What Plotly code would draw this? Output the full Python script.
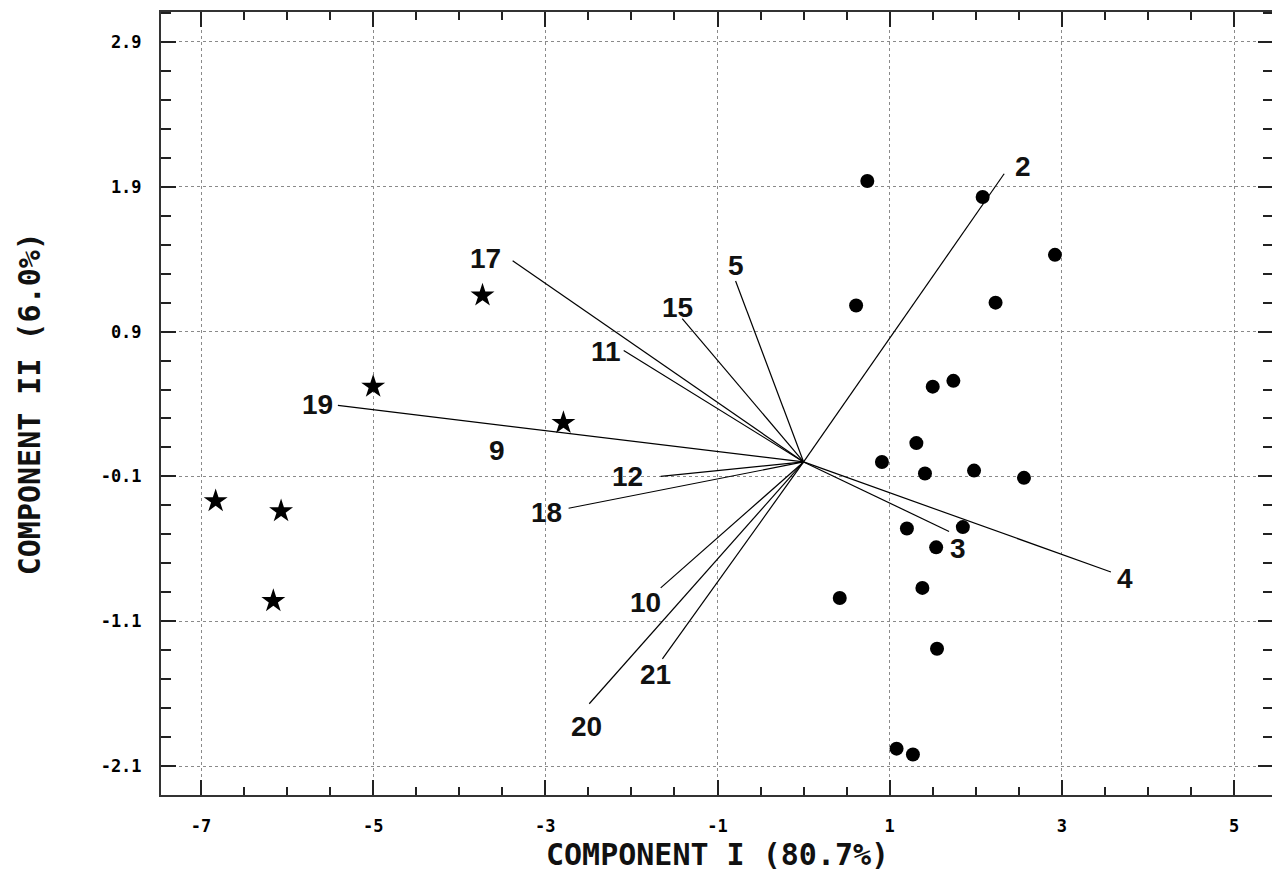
import plotly.graph_objects as go

# ---- data ----
star_x = [-6.83, -6.07, -6.16, -5.00, -3.73, -2.79]
star_y = [-0.27, -0.34, -0.96, 0.52, 1.15, 0.27]

circle_x = [0.74, 2.08, 2.92, 0.61, 2.23, 1.50, 1.74, 1.31, 0.91, 1.41, 1.98, 2.56,
            1.20, 1.85, 1.54, 1.38, 0.42, 1.55, 1.08, 1.27]
circle_y = [1.94, 1.83, 1.43, 1.08, 1.10, 0.52, 0.56, 0.13, 0.00, -0.08, -0.06, -0.11,
            -0.46, -0.45, -0.59, -0.87, -0.94, -1.29, -1.98, -2.02]

vec_labels = ["2", "5", "15", "17", "11", "19", "9", "12", "18", "10", "21", "20", "3", "4"]
vec_x = [2.33, -0.79, -1.41, -3.38, -2.09, -5.41, -3.40, -1.66, -2.73, -1.66, -1.64, -2.49, 1.69, 3.57]
vec_y = [1.99, 1.25, 0.99, 1.39, 0.77, 0.39, 0.25, -0.10, -0.32, -0.87, -1.36, -1.67, -0.48, -0.76]
origin = (0.0, 0.0)

x_ticks = [-7, -5, -3, -1, 1, 3, 5]
x_ticktext = ["-7", "-5", "-3", "-1", "1", "3", "5"]
y_ticks = [2.9, 1.9, 0.9, -0.1, -1.1, -2.1]
y_ticktext = ["2.9", "1.9", "0.9", "-0.1", "-1.1", "-2.1"]

x_title = "COMPONENT I (80.7%)"
y_title = "COMPONENT II (6.0%)"

# ---- label placement (pixel offsets from vector tips) ----
label_shift = {
    "2": (19, 7), "5": (0, 15), "15": (-5, 11), "17": (-27, 2), "11": (-18, -1),
    "19": (-20, 1), "9": (-14, -25), "12": (-33, 0), "18": (-22, -4), "10": (-15, -15),
    "21": (-7, -16), "20": (-3, -23), "3": (9, -17), "4": (14, -7),
}

line_x, line_y = [], []
for vx, vy, lab in zip(vec_x, vec_y, vec_labels):
    if lab == "9":
        continue
    line_x += [origin[0], vx, None]
    line_y += [origin[1], vy, None]

fig = go.Figure()
fig.add_trace(go.Scatter(x=line_x, y=line_y, mode="lines",
                         line=dict(color="black", width=1.2), hoverinfo="skip", showlegend=False))
fig.add_trace(go.Scatter(x=star_x, y=star_y, mode="markers",
                         marker=dict(symbol="star", size=18, color="black"), showlegend=False))
fig.add_trace(go.Scatter(x=circle_x, y=circle_y, mode="markers",
                         marker=dict(symbol="circle", size=14, color="black"), showlegend=False))

for vx, vy, lab in zip(vec_x, vec_y, vec_labels):
    dx, dy = label_shift[lab]
    fig.add_annotation(x=vx, y=vy, text=lab, showarrow=False, xshift=dx, yshift=dy,
                       font=dict(family="Liberation Sans, Arial", size=28, color="#111111",
                                 weight="bold"))

title_font = dict(family="DejaVu Sans Mono", size=30, color="#111111", weight="bold")
fig.add_annotation(xref="paper", yref="paper", x=0.5, y=-0.0764, text=x_title, showarrow=False,
                   yanchor="middle", xanchor="center", font=title_font)
fig.add_annotation(xref="paper", yref="paper", x=-0.118, y=0.5, text=y_title, showarrow=False,
                   textangle=-90, yanchor="middle", xanchor="center", font=title_font)

axis_common = dict(
    ticks="inside", ticklen=15, tickwidth=1.5, tickcolor="#222222",
    showgrid=True, gridcolor="#8a8a8a", griddash="dot", gridwidth=1,
    showline=True, linecolor="#333333", linewidth=2, mirror="ticks",
    zeroline=False,
    tickfont=dict(family="DejaVu Sans Mono", size=17, color="black", weight="bold"),
)

fig.update_xaxes(range=[-7.465, 5.453], tickmode="array", tickvals=x_ticks, ticktext=x_ticktext,
                 minor=dict(tickmode="linear", tick0=-7, dtick=0.5, ticks="inside", ticklen=8,
                            tickcolor="#222222", showgrid=False),
                 ticklabelstandoff=15, **axis_common)
fig.update_yaxes(range=[-2.30, 3.107], tickmode="array", tickvals=y_ticks, ticktext=y_ticktext,
                 minor=dict(tickmode="linear", tick0=-2.1, dtick=0.2, ticks="inside", ticklen=10,
                            tickcolor="#222222", showgrid=False),
                 ticklabelstandoff=14, **axis_common)

# page body adds an 8px offset; margins compensate so the plot sits where the reference has it
fig.update_layout(width=1280, height=893, margin=dict(l=153, r=15, t=2, b=106),
                  plot_bgcolor="white", paper_bgcolor="white", showlegend=False)

fig.write_html("out.html")
